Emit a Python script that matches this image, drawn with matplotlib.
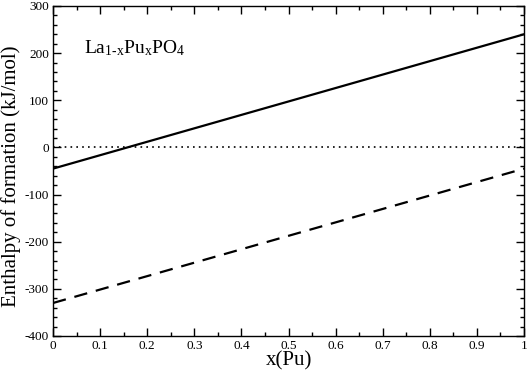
import matplotlib
matplotlib.use("Agg")
import matplotlib.pyplot as plt
from matplotlib.ticker import MultipleLocator

plt.rcParams['font.family'] = ['Liberation Serif', 'DejaVu Serif']
plt.rcParams['mathtext.fontset'] = 'custom'
plt.rcParams['mathtext.rm'] = 'Liberation Serif'
plt.rcParams['mathtext.it'] = 'Liberation Serif'
plt.rcParams['axes.unicode_minus'] = False

x = [0.0, 1.0]
solid_y = [-45, 240]
dashed_y = [-330, -45]
zero_y = [0, 0]
xticks = [0, 0.1, 0.2, 0.3, 0.4, 0.5, 0.6, 0.7, 0.8, 0.9, 1]
xticklabels = ['0', '0.1', '0.2', '0.3', '0.4', '0.5', '0.6', '0.7', '0.8', '0.9', '1']

W, H = 529, 374
fig = plt.figure(figsize=(W/100, H/100), dpi=100)
ax = fig.add_axes([53/W, 1-336/H, (524-53)/W, (336-6)/H])

ax.plot(x, solid_y, color='black', lw=1.6)
ax.plot(x, dashed_y, color='black', lw=1.6, ls=(0, (6, 4)))
ax.plot(x, zero_y, color='black', lw=1.2, ls=(0, (1, 2.5)))

ax.set_xlim(0, 1)
ax.set_ylim(-400, 300)
ax.xaxis.set_minor_locator(MultipleLocator(0.05))
ax.yaxis.set_major_locator(MultipleLocator(100))
ax.yaxis.set_minor_locator(MultipleLocator(20))
ax.set_xticks(xticks)
ax.set_xticklabels(xticklabels)
ax.tick_params(which='both', direction='in', top=True, right=True, labelsize=9.5, pad=3)
ax.tick_params(which='major', length=6, width=1)
ax.tick_params(which='minor', length=3, width=1)
for s in ax.spines.values():
    s.set_linewidth(1)

fig.text(289/W, 1-361/H, 'x(Pu)', fontsize=15, ha='center', va='center')
fig.text(11/W, 1-176/H, 'Enthalpy of formation (kJ/mol)', fontsize=15,
         rotation=90, ha='center', va='center')
ax.text(0.066, 200, r'$\mathrm{La_{1\text{-}x}Pu_xPO_4}$', fontsize=14, ha='left', va='baseline')

fig.savefig('out.png', dpi=100)
